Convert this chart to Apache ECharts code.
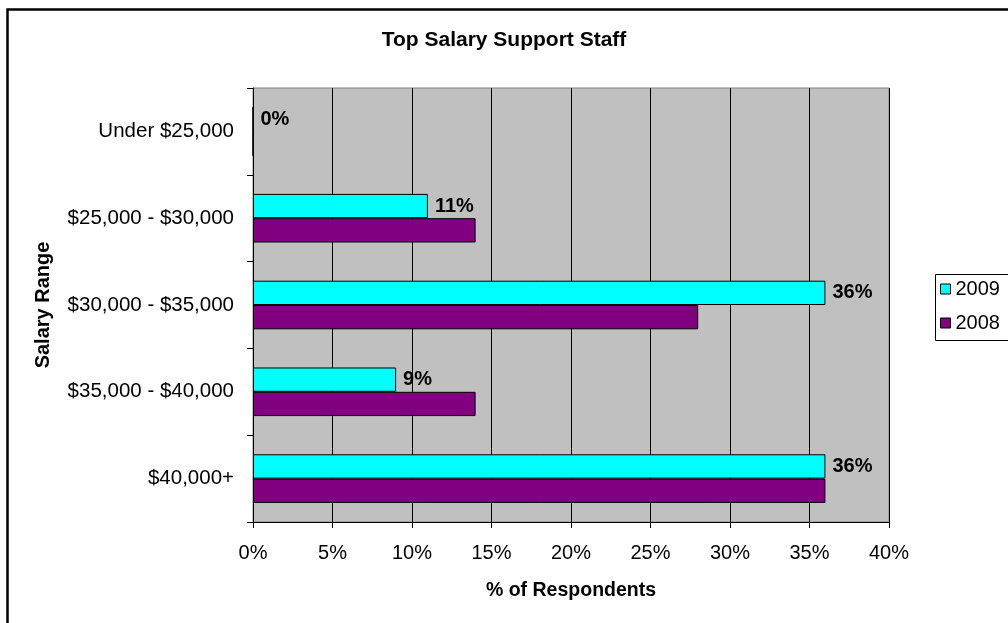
<!DOCTYPE html>
<html>
<head>
<meta charset="utf-8">
<script src="https://cdn.jsdelivr.net/npm/echarts@6/dist/echarts.min.js"></script>
<style>html,body{margin:0;padding:0;background:#fff;}#c{width:1008px;height:623px;}</style>
</head>
<body>
<div id="c"></div>
<script>
const categories = ['Under $25,000', '$25,000 - $30,000', '$30,000 - $35,000', '$35,000 - $40,000', '$40,000+'];
const values2009 = [0, 11, 36, 9, 36];
const values2008 = [0, 14, 28, 14, 36];
const xTicks = [0, 5, 10, 15, 20, 25, 30, 35, 40];

const FONT = '"Liberation Sans", Arial, sans-serif';
const chart = echarts.init(document.getElementById('c'), null, {renderer: 'canvas'});
chart.setOption({
  animation: false,
  backgroundColor: '#fff',
  textStyle: {fontFamily: FONT},
  title: {
    text: 'Top Salary Support Staff',
    left: 'center', top: 25,
    textStyle: {fontFamily: FONT, fontSize: 21, fontWeight: 'bold', color: '#000'}
  },
  graphic: [{
    type: 'rect', left: 5, top: 7, z: 100, silent: true,
    shape: {width: 1020, height: 640},
    style: {fill: 'none', stroke: '#000', lineWidth: 2.5}
  }, {
    type: 'rect', left: 933, top: 272, z: 100, silent: true,
    shape: {width: 120, height: 66},
    style: {fill: 'none', stroke: '#000', lineWidth: 1}
  }],
  legend: {
    orient: 'vertical',
    left: 933, top: 272,
    data: ['2009', '2008'],
    icon: 'rect',
    itemWidth: 10, itemHeight: 10,
    itemGap: 14,
    padding: [7, 2, 5, 7],
    borderWidth: 0,
    itemStyle: {borderColor: '#000', borderWidth: 1},
    textStyle: {fontFamily: FONT, fontSize: 20, color: '#000', padding: [0, 0, 0, 0]}
  },
  grid: {
    left: 253, right: 119, top: 88, bottom: 101,
    show: true, backgroundColor: '#C0C0C0', borderColor: '#808080', borderWidth: 1
  },
  xAxis: {
    type: 'value', min: 0, max: 40, interval: 5,
    name: '% of Respondents', nameLocation: 'middle', nameGap: 59,
    nameTextStyle: {fontFamily: FONT, fontSize: 19.5, fontWeight: 'bold', color: '#000'},
    axisLine: {show: true, lineStyle: {color: '#000', width: 1}},
    axisTick: {show: true, length: 6, lineStyle: {color: '#000'}},
    axisLabel: {
      margin: 21, fontFamily: FONT, fontSize: 20, color: '#000',
      formatter: v => (xTicks.indexOf(v) >= 0 ? v + '%' : '')
    },
    splitLine: {show: true, lineStyle: {color: '#000', width: 1}}
  },
  yAxis: {
    type: 'category', data: categories, inverse: true,
    name: 'Salary Range', nameLocation: 'middle', nameGap: 200, nameRotate: 90,
    nameTextStyle: {fontFamily: FONT, fontSize: 20, fontWeight: 'bold', color: '#000'},
    axisLine: {show: true, lineStyle: {color: '#000', width: 1}},
    axisTick: {show: true, length: 6, alignWithLabel: false, lineStyle: {color: '#000'}},
    axisLabel: {margin: 19, fontFamily: FONT, fontSize: 20.5, color: '#000'},
    splitLine: {show: false}
  },
  series: [
    {
      name: '2009', type: 'bar', data: values2009,
      barGap: '0%', barCategoryGap: '44%',
      itemStyle: {color: '#00FFFF', borderColor: '#000', borderWidth: 1},
      label: {
        show: true, position: 'right', distance: 7,
        fontFamily: FONT, fontSize: 20, fontWeight: 'bold', color: '#000',
        formatter: p => p.value + '%'
      }
    },
    {
      name: '2008', type: 'bar', data: values2008,
      barGap: '0%', barCategoryGap: '44%',
      itemStyle: {color: '#800080', borderColor: '#000', borderWidth: 1}
    }
  ]
});
</script>
</body>
</html>
